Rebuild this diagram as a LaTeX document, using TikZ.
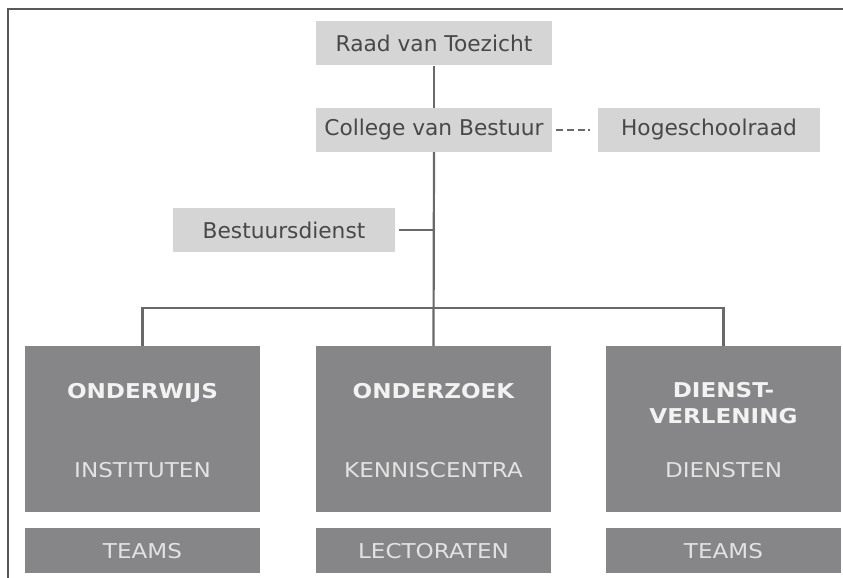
\documentclass[tikz,border=0pt]{standalone}
\usepackage{fontspec}
\setmainfont{DejaVu Sans}
\newfontfamily\widefont[FakeStretch=1.13]{DejaVu Sans}
\definecolor{lightbox}{RGB}{213,213,213}
\definecolor{darkbox}{RGB}{134,134,137}
\definecolor{darktext}{RGB}{72,72,72}
\definecolor{linecol}{RGB}{105,105,105}
\definecolor{lighttext}{RGB}{242,242,242}
\definecolor{subtext}{RGB}{226,226,226}
\tikzset{
  lbox/.style={fill=lightbox, draw=none, inner sep=0pt, text=darktext,
    font=\fontsize{21.8}{24}\selectfont, minimum height=44bp},
  dbox/.style={fill=darkbox, draw=none, inner sep=0pt, minimum width=235bp},
  ttl/.style={text=lighttext, font=\widefont\fontsize{20.5}{26}\selectfont\bfseries, align=center, inner sep=0pt, anchor=base},
  sub/.style={text=subtext, font=\widefont\fontsize{20.5}{24}\selectfont, inner sep=0pt, anchor=base},
  conn/.style={draw=linecol, line width=2.2bp},
  frame/.style={draw=black!65, line width=1.3bp}
}
\begin{document}
\begin{tikzpicture}[x=1bp,y=-1bp]
\useasboundingbox (0,0) rectangle (843,578);
\draw[frame] (8,578) -- (8,9) -- (843,9);

\node[lbox, minimum width=236bp] (raad) at (434,43.5) {Raad van Toezicht};
\node[lbox, minimum width=236bp] (cvb) at (434,130) {College van Bestuur};
\node[lbox, minimum width=222bp] (hsr) at (709,130) {Hogeschoolraad};
\node[lbox, minimum width=222bp] (bd) at (284,230) {Bestuursdienst};

\node[dbox, minimum height=166bp] (ow) at (142.5,429) {};
\node[dbox, minimum height=166bp] (oz) at (433.5,429) {};
\node[dbox, minimum height=166bp] (dv) at (723.5,429) {};
\node[dbox, minimum height=45bp] (ow2) at (142.5,550.5) {};
\node[dbox, minimum height=45bp] (oz2) at (433.5,550.5) {};
\node[dbox, minimum height=45bp] (dv2) at (723.5,550.5) {};

\node[ttl] (owt) at (142.5,398) {ONDERWIJS};
\node[ttl] (ozt) at (433.5,398) {ONDERZOEK};
\node[ttl] (dvt1) at (723.5,397) {DIENST-};
\node[ttl] (dvt2) at (723.5,423) {VERLENING};
\node[sub] (ows) at (142.5,477) {INSTITUTEN};
\node[sub] (ozs) at (433.5,477) {KENNISCENTRA};
\node[sub] (dvs) at (723.5,477) {DIENSTEN};
\node[sub] (owb) at (142.5,558) {TEAMS};
\node[sub] (ozb) at (433.5,558) {LECTORATEN};
\node[sub] (dvb) at (723.5,558) {TEAMS};

\coordinate (bdj) at (434,230);
\coordinate (bus) at (434,308);
\draw[conn] (raad.south) -- (cvb.north);
\draw[conn] (cvb.south) -- (oz.north);
\draw[conn] ([xshift=4bp]bd.east) -- (bdj);
\draw[conn] (ow.north) -- (ow.north |- bus) -- (dv.north |- bus) -- (dv.north);
\draw[conn, line width=2.6bp, dash pattern=on 7bp off 4bp on 7bp off 4bp on 7bp off 3bp on 2bp off 9bp] ([xshift=4bp]cvb.east) -- ([xshift=-8bp]hsr.west);
\end{tikzpicture}
\end{document}
